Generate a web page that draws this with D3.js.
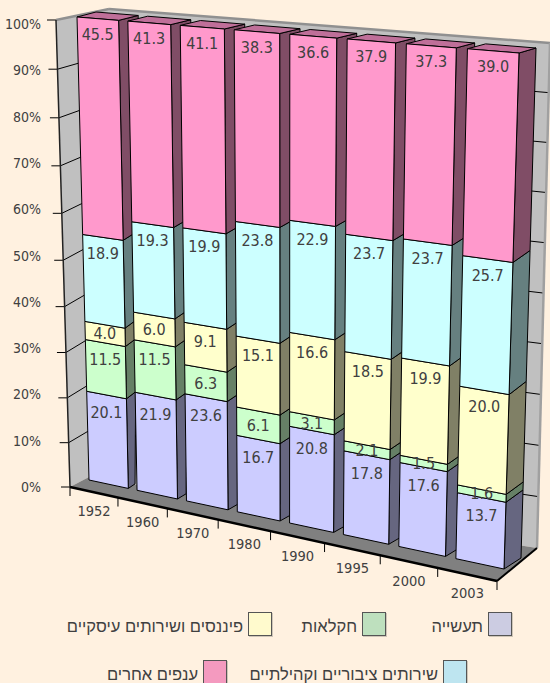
<!DOCTYPE html>
<html><head><meta charset="utf-8">
<script src="https://cdnjs.cloudflare.com/ajax/libs/d3/7.8.5/d3.min.js"></script>
<style>html,body{margin:0;padding:0;background:#fff1e0;overflow:hidden}svg{display:block}</style>
</head><body><svg id="c" width="550" height="683"></svg>
<script>
const categories = ["1952","1960","1970","1980","1990","1995","2000","2003"];
const industry  = [20.1,21.9,23.6,16.7,20.8,17.8,17.6,13.7];
const agriculture = [11.5,11.5,6.3,6.1,3.1,2.1,1.5,1.6];
const finance   = [4.0,6.0,9.1,15.1,16.6,18.5,19.9,20.0];
const publicSvc = [18.9,19.3,19.9,23.8,22.9,23.7,23.7,25.7];
const other     = [45.5,41.3,41.1,38.3,36.6,37.9,37.3,39.0];
const seriesNames = ["תעשייה","חקלאות","פיננסים ושירותים עיסקיים","שירותים ציבוריים וקהילתיים","ענפים אחרים"];
const valueTicks = [0,10,20,30,40,50,60,70,80,90,100];

const frontColors = ["#ccccff","#ccffcc","#ffffcc","#ccffff","#ff99cc"];
const sideColors  = ["#666680","#668066","#808066","#668080","#804d66"];
const legendColors= ["#ccccE2","#bee0be","#fffacd","#bee5f0","#f49abf"];
const topColor = "#bf6f99", ink = "#404040", font = "'DejaVu Sans Condensed','DejaVu Sans',sans-serif";

// square -> quad projective map: corners (0,0),(1,0),(1,1),(0,1)
function quad(p0,p1,p2,p3){
  const dx1=p1[0]-p2[0],dx2=p3[0]-p2[0],sx=p0[0]-p1[0]+p2[0]-p3[0];
  const dy1=p1[1]-p2[1],dy2=p3[1]-p2[1],sy=p0[1]-p1[1]+p2[1]-p3[1];
  const den=dx1*dy2-dx2*dy1;
  const g=(sx*dy2-dx2*sy)/den,h=(dx1*sy-sx*dy1)/den;
  const a=p1[0]-p0[0]+g*p1[0],b=p3[0]-p0[0]+h*p3[0],c=p0[0];
  const d=p1[1]-p0[1]+g*p1[1],e=p3[1]-p0[1]+h*p3[1],f=p0[1];
  return (u,v)=>{const w=g*u+h*v+1;return [(a*u+b*v+c)/w,(d*u+e*v+f)/w];};
}
// scene planes
const barFront = quad([89,480],[504,569],[519,53],[77,17]);
const barBack  = quad([94,476],[521,558],[536,48],[96,12]);
const axisFront= quad([70,487],[497,581],[510,56],[56,20]);
const wallBack = quad([89,477],[537,548],[550,43],[109,9]);
const floorQ   = quad([70,487],[497,581],[537,548],[89,477]);

const vScale = d3.scaleLinear().domain([0,100]).range([0,1]);
const uBand = d3.scaleBand().domain(categories).range([0,1]).paddingInner(0.18);
const uAxis = d3.scaleBand().domain(categories).range([0,1]).paddingInner(0);
const yLabel = d3.scaleLinear().domain([0,100]).range([487,24]);

const svg = d3.select("#c");
const line = d3.line();
const poly = (g,pts,fill,stroke,sw)=>g.append("path").attr("d",line(pts)+"Z").attr("fill",fill)
  .attr("stroke",stroke||"none").attr("stroke-width",sw||1).attr("stroke-linejoin","round");
const seg = (g,a,b,stroke,sw)=>g.append("path").attr("d",line([a,b])).attr("fill","none").attr("stroke",stroke).attr("stroke-width",sw||1);

// walls & floor
const walls = svg.append("g");
poly(walls,[axisFront(0,0),wallBack(0,0),wallBack(0,1),axisFront(0,1)],"#c0c0c0");
poly(walls,[wallBack(0,0),wallBack(1,0),wallBack(1,1),wallBack(0,1)],"#c0c0c0");
poly(walls,[floorQ(0,0),floorQ(1,0),floorQ(1,1),floorQ(0,1)],"#808080");
valueTicks.forEach(t=>{
  const v=vScale(t);
  if(t>0 && t<100){
    seg(walls,axisFront(0,v),wallBack(0,v),"#000",1);
    seg(walls,wallBack(0,v),wallBack(1,v),"#000",1);
  }
  const a=axisFront(0,v);
  seg(walls,[a[0]-9,a[1]],a,"#000",1);
  svg.append("text").attr("x",41).attr("y",yLabel(t)).attr("text-anchor","end").attr("dominant-baseline","central")
    .attr("font-family",font).attr("font-size",14).attr("fill",ink).text(t+"%");
});
seg(walls,wallBack(0,1),wallBack(1,1),"#909090",2.5);
seg(walls,axisFront(0,1),wallBack(0,1),"#909090",2.5);
seg(walls,wallBack(1,0),wallBack(1,1),"#a0a0a0",2.5);
seg(walls,axisFront(0,0),axisFront(0,1),"#222",1.5);
seg(walls,floorQ(0,0),floorQ(1,0),"#000",2.5);
seg(walls,floorQ(1,0),floorQ(1,1),"#000",2);

// category ticks
categories.forEach((c,i)=>{
  const a=axisFront(uAxis(c),0), b=axisFront(uAxis(c)+uAxis.bandwidth(),0);
  seg(walls,a,[a[0],a[1]+9],"#000",1);
  if(i===categories.length-1) seg(walls,b,[b[0],b[1]+9],"#000",1);
  svg.append("text").attr("x",(a[0]+b[0])/2).attr("y",(a[1]+b[1])/2+19).attr("text-anchor","middle").attr("dominant-baseline","central")
    .attr("font-family",font).attr("font-size",14.5).attr("fill",ink).text(c);
});

// stacked bars
const rows = categories.map((c,i)=>({c,s0:industry[i],s1:agriculture[i],s2:finance[i],s3:publicSvc[i],s4:other[i]}));
const stacked = d3.stack().keys(["s0","s1","s2","s3","s4"])(rows);
const bars = svg.append("g"), labels = svg.append("g");
categories.forEach((c,i)=>{
  const u0=uBand(c),u1=u0+uBand.bandwidth();
  stacked.forEach((layer,k)=>{
    const v0=vScale(layer[i][0]),v1=vScale(layer[i][1]);
    poly(bars,[barFront(u1,v0),barBack(u1,v0),barBack(u1,v1),barFront(u1,v1)],sideColors[k],"#000",1);
  });
  const vt=vScale(100);
  poly(bars,[barFront(u0,vt),barFront(u1,vt),barBack(u1,vt),barBack(u0,vt)],topColor,"#000",1);
  stacked.forEach((layer,k)=>{
    const v0=vScale(layer[i][0]),v1=vScale(layer[i][1]);
    poly(bars,[barFront(u0,v0),barFront(u1,v0),barFront(u1,v1),barFront(u0,v1)],frontColors[k],"#000",1);
    const um=(u0+u1)/2, t=barFront(um,v1), bt=barFront(um,v0);
    const h=bt[1]-t[1];
    labels.append("text").attr("x",t[0]).attr("y",t[1]+Math.min(h/2,k===0?18:16)).attr("text-anchor","middle")
      .attr("dominant-baseline","central").attr("font-family",font).attr("font-size",16).attr("fill",ink)
      .text(layer[i].data["s"+k].toFixed(1));
  });
});

// legend
const legendPos = [[488,612],[362,612],[248,612],[443,660],[203,660]];
seriesNames.forEach((n,k)=>{
  const [x,y]=legendPos[k];
  svg.append("rect").attr("x",x+1).attr("y",y+1).attr("width",24).attr("height",24).attr("fill","#cfc6b8");
  svg.append("rect").attr("x",x+.5).attr("y",y+.5).attr("width",23).attr("height",23).attr("fill",legendColors[k]).attr("stroke","#555");
  svg.append("text").attr("x",x-5).attr("y",y+14).attr("text-anchor","start").attr("dominant-baseline","central")
    .attr("direction","rtl").attr("font-family","'Liberation Sans', sans-serif").attr("font-size",16.5).attr("fill",ink).text(n);
});
</script></body></html>
